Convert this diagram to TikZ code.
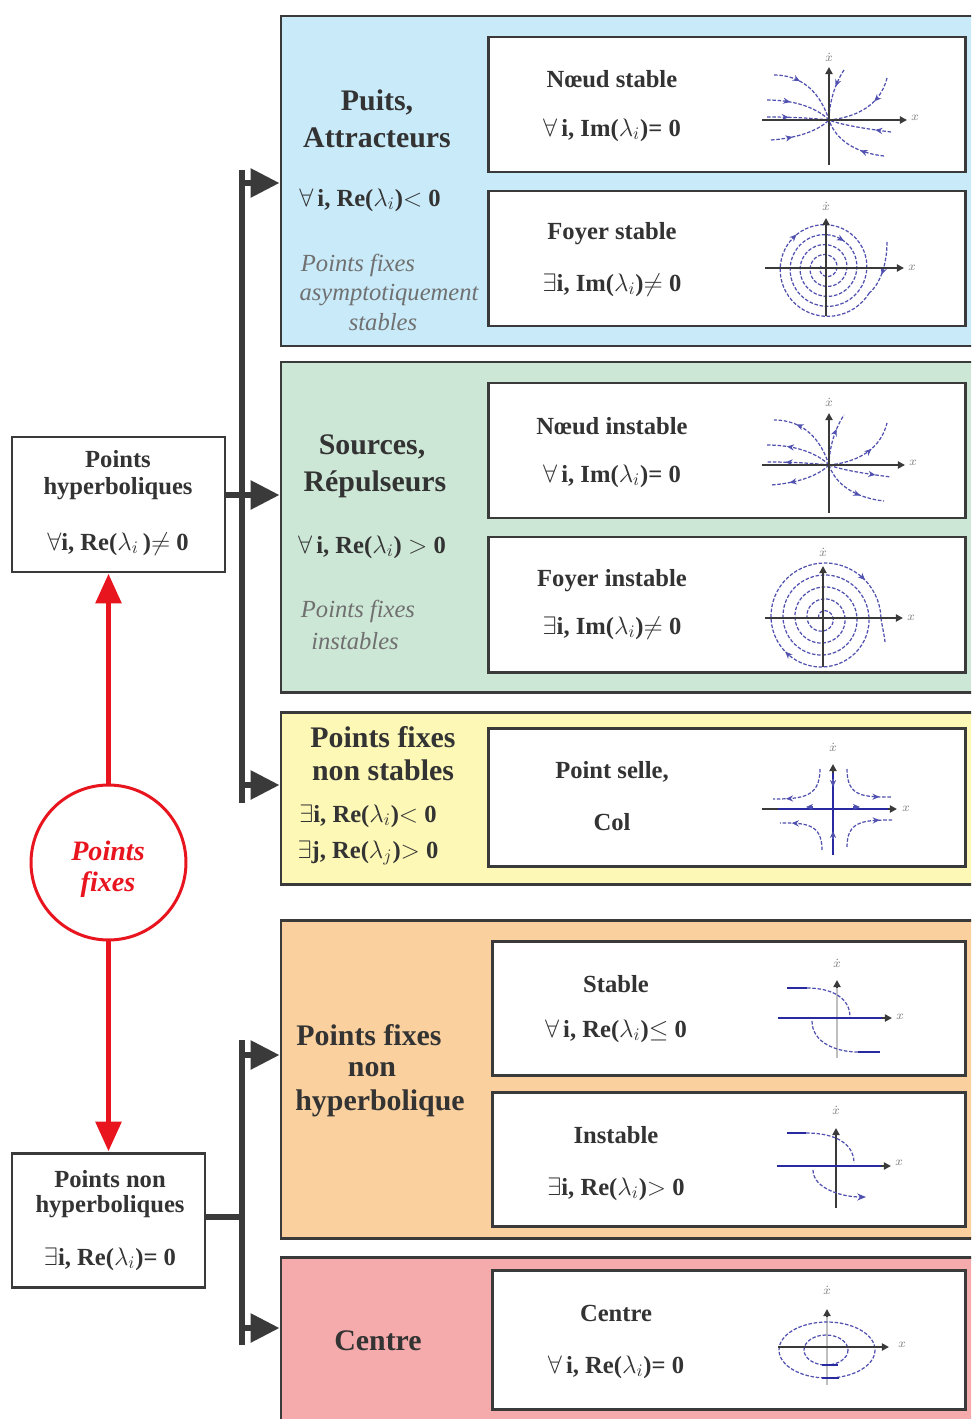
\documentclass[tikz,border=0pt]{standalone}
\usepackage{fontspec}
\setmainfont{Liberation Serif}
\usetikzlibrary{arrows.meta,fit,decorations.markings}
\definecolor{txt}{HTML}{333333}
\definecolor{frame}{HTML}{3A3A3A}
\definecolor{pblue}{HTML}{C8EAF9}
\definecolor{pgreen}{HTML}{CDE7D6}
\definecolor{pyellow}{HTML}{FDF8B6}
\definecolor{porange}{HTML}{F9D09E}
\definecolor{ppink}{HTML}{F5ABAB}
\definecolor{fred}{HTML}{E8141E}
\definecolor{trajc}{HTML}{5050B0}
\definecolor{blueax}{HTML}{2A2AA0}
\definecolor{axisc}{HTML}{3A3A3A}
\definecolor{ital}{HTML}{707070}
\begin{document}
\begin{tikzpicture}[x=0.02cm,y=-0.02cm,
  panel/.style={draw=frame, line width=1.7pt, inner sep=0pt},
  whitebox/.style={draw=frame, line width=1.7pt, fill=white, inner sep=0pt},
  head/.style={text=txt, font=\bfseries\fontsize{17}{20}\selectfont, inner sep=0pt},
  cond/.style={text=txt, font=\bfseries\fontsize{14}{16}\selectfont, inner sep=0pt},
  itl/.style={text=ital, font=\itshape\fontsize{14}{16}\selectfont, inner sep=0pt},
  lbl/.style={text=txt, font=\bfseries\fontsize{14}{16}\selectfont, inner sep=0pt},
  bus/.style={draw=frame, line width=3.4pt},
  busarrow/.style={draw=frame, line width=3.4pt, -{Triangle[length=0.58cm,width=0.56cm]}},
  redarrow/.style={draw=fred, line width=3.4pt, -{Triangle[length=0.6cm,width=0.5cm]}},
  trajline/.style={draw=trajc, line width=0.7pt, dash pattern=on 2pt off 1pt},
  traj/.style={trajline, postaction={decorate}, decoration={markings, mark=at position #1 with {\arrow[trajc]{Stealth[length=4pt,width=3.5pt]}}}},
  traj/.default=0.5,
  tip/.style={draw=trajc, line width=0.7pt, -{Stealth[length=4pt,width=3.5pt]}},
  axisl/.style={draw=axisc, line width=1.3pt, -{Triangle[length=4pt,width=4pt]}},
  axlab/.style={text=gray, font=\fontsize{7}{7}\selectfont, inner sep=0.5pt},
  bold/.style={draw=blueax, line width=1.6pt},
]
\clip (0,0) rectangle (971,1419);
\fill[white] (0,0) rectangle (971,1419);

% ---------------- panels ----------------
\node[panel, fill=pblue,   fit={(281,16) (990,346)}]   (p1) {};
\node[panel, fill=pgreen,  fit={(281,362) (990,692)}]  (p2) {};
\node[panel, fill=pyellow, fit={(281,712) (990,884)}]  (p3) {};
\node[panel, fill=porange, fit={(281,920) (990,1238)}] (p4) {};
\node[panel, fill=ppink,   fit={(281,1257) (990,1440)}] (p5) {};

% ---------------- inner boxes ----------------
\node[whitebox, fit={(488,37) (965,172)}]   (b1) {};
\node[whitebox, fit={(488,191) (965,326)}]  (b2) {};
\node[whitebox, fit={(488,383) (965,518)}]  (b3) {};
\node[whitebox, fit={(488,537) (965,672)}]  (b4) {};
\node[whitebox, fit={(488,728) (965,866)}]  (b5) {};
\node[whitebox, fit={(492,941) (965,1075)}] (b6) {};
\node[whitebox, fit={(492,1092) (965,1226)}] (b7) {};
\node[whitebox, fit={(492,1270) (965,1409)}] (b8) {};

% ---------------- left boxes ----------------
\node[whitebox, fit={(12,437) (225,572)}]  (hyp) {};
\node[whitebox, fit={(12,1153) (205,1287)}] (nhyp) {};
\node[draw=fred, line width=1.7pt, fill=white, circle, minimum size=3.1cm, inner sep=0pt] (pf) at (108.5,862.5) {};

% ---------------- texts in panels ----------------
\node[head] (t1a) at (377,102) {Puits,};
\node[head] (t1b) at (377,138) {Attracteurs};
\node[cond] (t1c) at (370,200) {$\forall$\,i, Re($\lambda_i$)$<$ 0};
\node[itl]  (t1d) at (358,265) {Points fixes};
\node[itl]  (t1e) at (389,295) {asymptotiquement};
\node[itl]  (t1f) at (383,322) {stables};

\node[head] (t2a) at (372,447) {Sources,};
\node[head] (t2b) at (375,484) {Répulseurs};
\node[cond] (t2c) at (372,547) {$\forall$\,i, Re($\lambda_i$) $>$ 0};
\node[itl]  (t2d) at (358,611) {Points fixes};
\node[itl]  (t2e) at (355,641) {instables};

\node[head] (t3a) at (383,737) {Points fixes};
\node[head] (t3b) at (383,770) {non stables};
\node[cond] (t3c) at (368,816) {$\exists$i, Re($\lambda_i$)$<$ 0};
\node[cond] (t3d) at (368,853) {$\exists$j, Re($\lambda_j$)$>$ 0};

\node[head] (t4a) at (369,1035) {Points fixes};
\node[head] (t4b) at (372,1070) {non};
\node[head] (t4c) at (380,1103) {hyperbolique};

\node[head] (t5a) at (378,1341) {Centre};

% ---------------- texts in inner boxes ----------------
\node[lbl]  (n1a) at (612,79)  {Nœud stable};
\node[cond] (n1b) at (612,130) {$\forall$\,i, Im($\lambda_i$)= 0};
\node[lbl]  (n2a) at (612,234) {Foyer stable};
\node[cond] (n2b) at (612,285) {$\exists$i, Im($\lambda_i$)$\neq$ 0};
\node[lbl]  (n3a) at (612,426) {Nœud instable};
\node[cond] (n3b) at (612,476) {$\forall$\,i, Im($\lambda_i$)= 0};
\node[lbl]  (n4a) at (612,581) {Foyer instable};
\node[cond] (n4b) at (612,628) {$\exists$i, Im($\lambda_i$)$\neq$ 0};
\node[lbl]  (n5a) at (612,772) {Point selle,};
\node[lbl]  (n5b) at (612,822) {Col};
\node[lbl]  (n6a) at (616,984) {Stable};
\node[cond] (n6b) at (616,1031) {$\forall$\,i, Re($\lambda_i$)$\leq$ 0};
\node[lbl]  (n7a) at (616,1135) {Instable};
\node[cond] (n7b) at (616,1189) {$\exists$i, Re($\lambda_i$)$>$ 0};
\node[lbl]  (n8a) at (616,1313) {Centre};
\node[cond] (n8b) at (616,1367) {$\forall$\,i, Re($\lambda_i$)= 0};

% ---------------- texts in left boxes ----------------
\node[lbl]  (h1) at (118,459) {Points};
\node[lbl]  (h2) at (118,489) {hyperboliques};
\node[cond] (h3) at (118,544) {$\forall$i, Re($\lambda_i$\,)$\neq$ 0};
\node[lbl]  (g1) at (110,1179) {Points non};
\node[lbl]  (g2) at (110,1207) {hyperboliques};
\node[cond] (g3) at (110,1259) {$\exists$i, Re($\lambda_i$)= 0};
\node[text=fred, font=\bfseries\itshape\fontsize{16}{18}\selectfont, inner sep=0pt] (pf1) at (108,851) {Points};
\node[text=fred, font=\bfseries\itshape\fontsize{16}{18}\selectfont, inner sep=0pt] (pf2) at (108,885) {fixes};

% ---------------- bus connectors ----------------
\coordinate (u0) at (242,170);
\coordinate (u1) at (242,183);
\coordinate (u2) at (242,495);
\coordinate (u3) at (242,785);
\coordinate (u4) at (242,803);
\coordinate (l0) at (242,1040);
\coordinate (l1) at (242,1055);
\coordinate (l2) at (242,1217);
\coordinate (l3) at (242,1328);
\coordinate (l4) at (242,1345);
\draw[bus] (u0) -- (u4);
\draw[bus] (hyp.east |- u2) -- (u2);
\draw[busarrow] (u1) -- (u1 -| p1.west);
\draw[busarrow] (u2) -- (u2 -| p2.west);
\draw[busarrow] (u3) -- (u3 -| p3.west);
\draw[bus] (l0) -- (l4);
\draw[bus] (nhyp.east |- l2) -- (l2);
\draw[busarrow] (l1) -- (l1 -| p4.west);
\draw[busarrow] (l3) -- (l3 -| p5.west);

% ---------------- red arrows ----------------
\draw[redarrow] (pf.north) -- (pf.north |- hyp.south);
\draw[redarrow] (pf.south) -- (pf.south |- nhyp.north);

% ---------------- portrait 1 : noeud stable ----------------
\begin{scope}[shift={(829,120)}]
\draw[traj=0.35] (-55,-45) .. controls (-25,-45) and (-8,-25) .. (0,0);
\draw[traj=0.35] (-62,-20) .. controls (-30,-20) and (-10,-10) .. (0,0);
\draw[traj=0.35] (-62,-3) .. controls (-30,-3) and (-10,-1) .. (0,0);
\draw[traj=0.35] (-58,20) .. controls (-30,18) and (-10,10) .. (0,0);
\draw[traj=0.35] (15,-50) .. controls (5,-35) and (0,-15) .. (0,0);
\draw[traj=0.35] (58,-42) .. controls (50,-10) and (20,-2) .. (0,0);
\draw[traj=0.25] (62,12) .. controls (30,8) and (10,4) .. (0,0);
\draw[traj=0.35] (55,36) .. controls (20,32) and (5,15) .. (0,0);
\draw[axisl] (-67,0) -- (78,0);
\draw[axisl] (0,45) -- (0,-53);
\node[axlab] at (86,-2) {$x$};
\node[axlab] at (0,-63) {$\dot x$};
\end{scope}

% ---------------- portrait 2 : foyer stable ----------------
\begin{scope}[shift={(826,268)}]
\draw[traj=0.6] (61,-26) .. controls (61,0) and (52,18) .. (43.3,25);
\draw[trajline] plot[variable=\t, domain=30:1650, samples=260]
  ({50*(1-(\t-30)/1800)*cos(\t)}, {50*(1-(\t-30)/1800)*sin(\t)});
\draw[tip] (-33.5,-29.5) -- (-29.5,-33.5);
\draw[tip] (14.5,-29.1) -- (18,-27.1);
\draw[axisl] (-61,0) -- (78,0);
\draw[axisl] (0,48) -- (0,-50);
\node[axlab] at (86,0) {$x$};
\node[axlab] at (0,-62) {$\dot x$};
\end{scope}

% ---------------- portrait 3 : noeud instable ----------------
\begin{scope}[shift={(829,465)}]
\draw[traj=0.7] (0,0) .. controls (-8,-25) and (-25,-45) .. (-55,-45);
\draw[traj=0.7] (0,0) .. controls (-10,-10) and (-30,-20) .. (-62,-20);
\draw[traj=0.7] (0,0) .. controls (-10,-1) and (-30,-3) .. (-62,-3);
\draw[traj=0.7] (0,0) .. controls (-10,10) and (-30,18) .. (-58,20);
\draw[traj=0.7] (0,0) .. controls (0,-15) and (5,-35) .. (15,-50);
\draw[traj=0.6] (0,0) .. controls (20,-2) and (50,-10) .. (58,-42);
\draw[traj=0.75] (0,0) .. controls (10,4) and (30,8) .. (62,12);
\draw[traj=0.65] (0,0) .. controls (5,15) and (20,32) .. (55,36);
\draw[axisl] (-67,0) -- (76,0);
\draw[axisl] (0,48) -- (0,-52);
\node[axlab] at (84,-2) {$x$};
\node[axlab] at (0,-63) {$\dot x$};
\end{scope}

% ---------------- portrait 4 : foyer instable ----------------
\begin{scope}[shift={(823,618)}]
\draw[trajline] plot[variable=\t, domain=-180:1440, samples=260]
  ({(58-(1440-\t)/30)*cos(\t)}, {(58-(1440-\t)/30)*sin(\t)});
\draw[tip] (38,-42) -- (42,-38);
\draw[tip] (-33.7,37.7) -- (-37.7,33.7);
\draw[trajline] (58,0) .. controls (59,8) and (61,15) .. (62,24);
\draw[axisl] (-58,0) -- (80,0);
\draw[axisl] (0,49) -- (0,-52);
\node[axlab] at (88,0) {$x$};
\node[axlab] at (0,-66) {$\dot x$};
\end{scope}

% ---------------- portrait 5 : point selle ----------------
\begin{scope}[shift={(833,809)}]
\draw[traj=0.8] (-13,-40) .. controls (-13,-12) and (-30,-10) .. (-60,-10);
\draw[traj=0.8] (14,-40) .. controls (14,-12) and (30,-12) .. (59,-12);
\draw[traj=0.8] (-11,41) .. controls (-11,14) and (-28,14) .. (-53,14);
\draw[traj=0.8] (14,38) .. controls (14,12) and (30,11) .. (59,11);
\draw[axisl] (-71,0) -- (64,0);
\draw[draw=blueax, line width=1.3pt] (-55,0) -- (55,0);
\draw[draw=blueax, line width=1.3pt] (0,46) -- (0,-38);
\draw[axisl] (0,-36) -- (0,-45);
\draw[tip, line width=0.8pt] (-20,-2) -- (-27,-2);
\draw[tip, line width=0.8pt] (20,-2) -- (27,-2);
\draw[tip, line width=0.8pt] (0,-30) -- (0,-22);
\draw[tip, line width=0.8pt] (0,30) -- (0,22);
\node[axlab] at (73,0) {$x$};
\node[axlab] at (0,-62) {$\dot x$};
\end{scope}

% ---------------- portrait 6 : stable ----------------
\begin{scope}[shift={(837,1018)}]
\draw[draw=gray!50, line width=0.8pt] (0,40) -- (0,-30);
\draw[axisl] (0,-30) -- (0,-38);
\draw[axisl] (40,0) -- (55,0);
\draw[draw=blueax, line width=1.3pt] (-59,0) -- (45,0);
\draw[trajline] (-30,-30) .. controls (-5,-30) and (13,-20) .. (13,-1);
\draw[bold] (-50,-30) -- (-30,-30);
\draw[trajline] (-25,3) .. controls (-25,25) and (0,34) .. (21,34);
\draw[bold] (21,34) -- (43,34);
\node[axlab] at (63,-1) {$x$};
\node[axlab] at (0,-55) {$\dot x$};
\end{scope}

% ---------------- portrait 7 : instable ----------------
\begin{scope}[shift={(836,1166)}]
\draw[axisl] (0,42) -- (0,-38);
\draw[axisl] (40,0) -- (55,0);
\draw[draw=blueax, line width=1.3pt] (-59,0) -- (45,0);
\draw[trajline] (-30,-33) .. controls (0,-33) and (18,-22) .. (18,-3);
\draw[bold] (-49,-33) -- (-30,-33);
\draw[trajline, -{Stealth[length=5pt,width=4pt]}] (-23,4) .. controls (-23,22) and (5,31) .. (30,31);
\node[axlab] at (63,-3) {$x$};
\node[axlab] at (0,-56) {$\dot x$};
\end{scope}

% ---------------- portrait 8 : centre ----------------
\begin{scope}[shift={(827,1347)}]
\draw[draw=gray!50, line width=0.8pt] (0,38) -- (0,-30);
\draw[axisl] (0,-30) -- (0,-38);
\draw[trajline] (0,3) ellipse [x radius=48, y radius=28];
\draw[trajline] (-1,3) ellipse [x radius=22, y radius=15];
\draw[bold] (-5,31) -- (12,31);
\draw[bold] (-5,18) -- (11,18);
\draw[axisl] (-49,0) -- (62,0);
\node[axlab] at (75,-2) {$x$};
\node[axlab] at (0,-57) {$\dot x$};
\end{scope}
\end{tikzpicture}
\end{document}
